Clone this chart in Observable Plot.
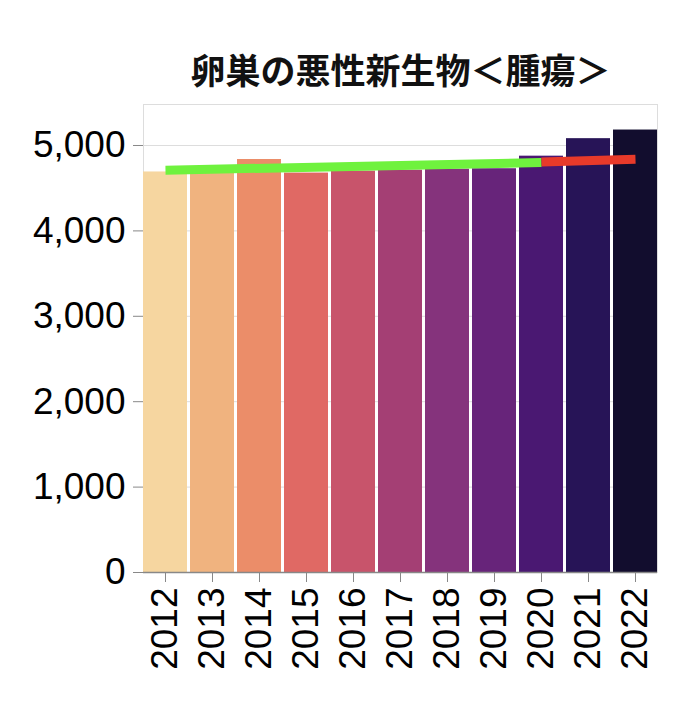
<!DOCTYPE html>
<html>
<head>
<meta charset="utf-8">
<script src="https://cdn.jsdelivr.net/npm/d3@7"></script>
<script src="https://cdn.jsdelivr.net/npm/@observablehq/plot@0.6"></script>
<style>
  body { margin: 0; background: #fff; }
  #chart svg { display: block; }
</style>
</head>
<body>
<div id="chart"></div>
<script>
const title = "卵巣の悪性新生物＜腫瘍＞";
const years = [2012, 2013, 2014, 2015, 2016, 2017, 2018, 2019, 2020, 2021, 2022];
const values = [4690, 4730, 4836, 4677, 4700, 4711, 4723, 4728, 4875, 5080, 5181];
const barColors = ["#f6d6a0", "#f0b37f", "#eb8d69", "#e06964", "#c8546b", "#a43f74", "#85337c", "#67247a", "#4a1872", "#271457", "#120d2e"];
const trendYears = [2012, 2020];
const trendValues = [4711, 4800];
const forecastYears = [2020, 2022];
const forecastValues = [4808, 4839];
const yTicks = [0, 1000, 2000, 3000, 4000, 5000];

const bars = years.map((y, i) => ({year: y, value: values[i]}));
const trend = trendYears.map((y, i) => ({year: y, value: trendValues[i]}));
const forecast = forecastYears.map((y, i) => ({year: y, value: forecastValues[i]}));

const chart = Plot.plot({
  width: 686,
  height: 706,
  marginLeft: 143,
  marginRight: 29,
  marginTop: 104,
  marginBottom: 134,
  style: {fontFamily: "Liberation Sans, Arial, sans-serif", fontSize: "34px", color: "#000", background: "#fff"},
  x: {type: "band", domain: years, padding: 0.07, paddingInner: 0.07, paddingOuter: 0.0, label: null},
  y: {domain: [0, 5480], label: null},
  color: {type: "ordinal", domain: years, range: barColors},
  marks: [
    Plot.gridY(yTicks, {stroke: "#ddd", strokeOpacity: 1}),
    Plot.frame({stroke: "#ddd"}),
    Plot.barY(bars, {x: "year", y: "value", fill: "year"}),
    Plot.line(trend, {x: "year", y: "value", stroke: "#6ff23e", strokeWidth: 9, strokeLinecap: "butt"}),
    Plot.line(forecast, {x: "year", y: "value", stroke: "#e83a2a", strokeWidth: 9, strokeLinecap: "butt"}),
    Plot.axisY(yTicks, {tickFormat: d3.format(","), tickSize: 10, tickPadding: 8, stroke: "#888", fontSize: 37}),
    Plot.ruleX([0], {frameAnchor: "left", stroke: "#888", strokeWidth: 1.5}),
    Plot.ruleY([0], {stroke: "#888", strokeWidth: 1.5}),
    Plot.axisX({tickRotate: -90, tickFormat: d => String(d), tickSize: 10, tickPadding: 5, stroke: "#888", fontSize: 37}),
    Plot.text([title], {frameAnchor: "top", dy: -32, lineAnchor: "middle", fontSize: 35, fontWeight: "bold", fontFamily: "Noto Sans CJK JP", fill: "#111"})
  ]
});
document.getElementById("chart").appendChild(chart);
</script>
</body>
</html>
